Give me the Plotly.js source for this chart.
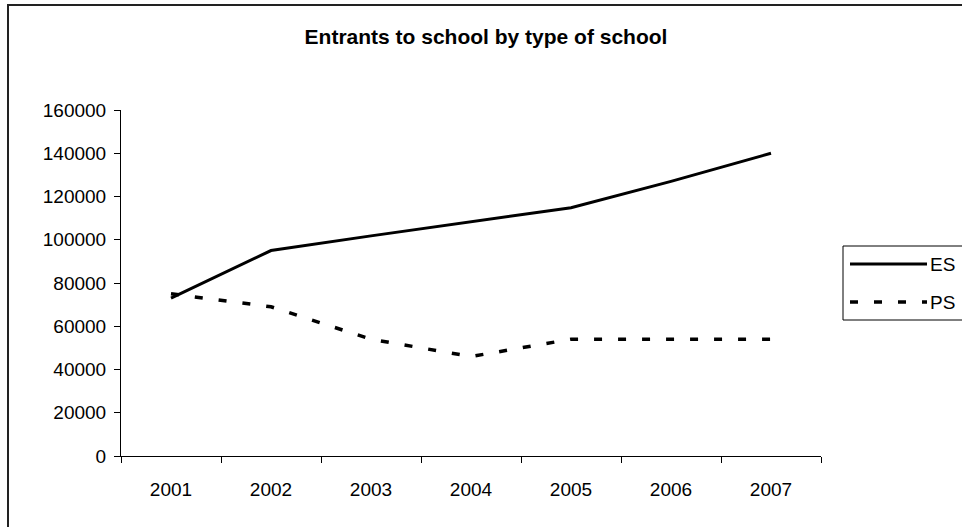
<!DOCTYPE html>
<html>
<head>
<meta charset="utf-8">
<script src="https://cdn.plot.ly/plotly-3.0.1.min.js"></script>
<style>
  html, body { margin: 0; padding: 0; background: #fff; }
  #chart { width: 962px; height: 527px; }
</style>
</head>
<body>
<div id="chart"></div>
<script>
// Entrants to school, by type of school
const years = ['2001', '2002', '2003', '2004', '2005', '2006', '2007'];
const esValues = [73000, 95000, 101800, 108200, 114800, 127000, 140000];
const psValues = [75000, 69000, 54000, 46000, 54000, 54000, 54000];
const seriesNames = ['ES', 'PS'];
const yTickValues = [0, 20000, 40000, 60000, 80000, 100000, 120000, 140000, 160000];
const chartTitle = 'Entrants to school by type of school';

// page geometry (pixels)
const W = 962, H = 527;
const M = { l: 121, r: 141, t: 110, b: 71 };
const plotW = W - M.l - M.r;
const plotH = H - M.t - M.b;
const px = x => (x - M.l) / plotW;          // page x -> paper x
const py = y => (H - M.b - y) / plotH;      // page y -> paper y

const FONT = 'Liberation Sans, Arial, Helvetica, sans-serif';
const TICK_SIZE = 19;
const esLine = { color: '#000', width: 3 };
const psLine = { color: '#000', width: 3.5, dash: '8px,16px' };

const traces = [
  { type: 'scatter', mode: 'lines', name: seriesNames[0], x: years, y: esValues, line: esLine, showlegend: false, hoverinfo: 'x+y' },
  { type: 'scatter', mode: 'lines', name: seriesNames[1], x: years, y: psValues, line: psLine, showlegend: false, hoverinfo: 'x+y' }
];

// hand-drawn legend box at the right, Excel style
const legendBox = { x0: 843, x1: 968, y0: 246, y1: 320 };
const legendRows = [
  { name: seriesNames[0], line: esLine, y: 264 },
  { name: seriesNames[1], line: psLine, y: 302 }
];

const shapes = [
  // outer chart frame
  { type: 'rect', xref: 'paper', yref: 'paper', x0: px(8), x1: px(966), y0: py(5), y1: py(532),
    line: { color: '#222', width: 2 }, fillcolor: 'rgba(0,0,0,0)', layer: 'below' },
  // legend frame
  { type: 'rect', xref: 'paper', yref: 'paper', x0: px(legendBox.x0), x1: px(legendBox.x1),
    y0: py(legendBox.y0), y1: py(legendBox.y1), line: { color: '#000', width: 1 }, fillcolor: '#fff' }
];
const annotations = [];
legendRows.forEach(r => {
  shapes.push({ type: 'line', xref: 'paper', yref: 'paper', x0: px(850), x1: px(927), y0: py(r.y), y1: py(r.y),
    line: { color: r.line.color, width: r.line.width, dash: r.line.dash || 'solid' } });
  annotations.push({ xref: 'paper', yref: 'paper', x: px(928), y: py(r.y), xanchor: 'left', yanchor: 'middle',
    text: r.name, showarrow: false, font: { family: FONT, size: TICK_SIZE, color: '#000' } });
});

const layout = {
  width: W, height: H,
  margin: M,
  paper_bgcolor: '#fff', plot_bgcolor: '#fff',
  font: { family: FONT, size: TICK_SIZE, color: '#000' },
  title: { text: '<b>' + chartTitle + '</b>', x: 486 / W, xref: 'container', xanchor: 'center',
           y: 1 - 37 / H, yref: 'container', yanchor: 'middle', font: { family: FONT, size: 21, color: '#000' } },
  showlegend: false,
  xaxis: {
    type: 'category', range: [-0.5, years.length - 0.5], tickson: 'boundaries',
    showline: true, linecolor: '#000', linewidth: 1, showgrid: false, zeroline: false,
    ticks: 'outside', ticklen: 6, tickcolor: '#000', ticklabelstandoff: 16,
    tickfont: { family: FONT, size: TICK_SIZE, color: '#000' }, fixedrange: true
  },
  yaxis: {
    range: [0, 160000], tickmode: 'array', tickvals: yTickValues, ticktext: yTickValues.map(String),
    showline: true, linecolor: '#000', linewidth: 1, showgrid: false, zeroline: false,
    ticks: 'outside', ticklen: 6, tickcolor: '#000', ticklabelstandoff: 4,
    tickfont: { family: FONT, size: TICK_SIZE, color: '#000' }, fixedrange: true
  },
  shapes: shapes,
  annotations: annotations
};

Plotly.newPlot('chart', traces, layout, { displayModeBar: false, staticPlot: true });
</script>
</body>
</html>
